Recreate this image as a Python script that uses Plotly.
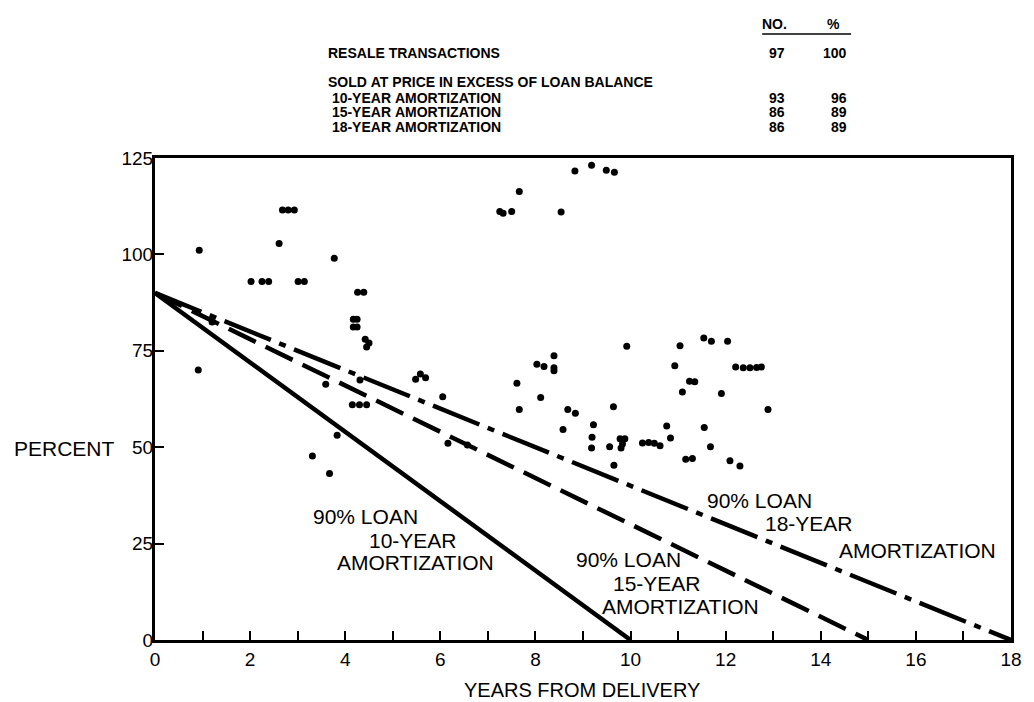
import plotly.graph_objects as go

# ---------------- data ----------------
years = [0.93, 0.91, 1.20,
         2.68, 2.80, 2.93, 2.61, 3.77, 2.02, 2.25, 2.39, 3.01, 3.14,
         4.26, 4.39, 4.17, 4.25, 4.17, 4.25, 4.42, 4.50, 4.45,
         4.31, 3.59, 4.15, 4.30, 4.45, 3.83, 3.31, 3.67,
         5.48, 5.58, 5.69, 6.05, 6.16, 6.57,
         8.83, 9.18, 9.49, 9.66, 7.66, 7.25, 7.32, 7.50, 8.54,
         8.39, 8.03, 8.18, 8.39, 8.39, 7.61, 8.11, 7.66, 8.68, 8.84, 8.58,
         9.22, 9.19, 9.18, 9.56, 9.64, 9.65,
         9.78, 9.88, 9.83, 9.80, 10.25, 10.38, 10.50, 10.62,
         9.92, 11.04, 11.54, 11.70, 12.04, 10.93,
         12.21, 12.37, 12.51, 12.65, 12.75, 11.24, 11.35, 11.09, 11.91, 12.89,
         10.76, 11.55, 10.84, 11.68, 11.16, 11.30, 12.09, 12.30]
percent = [101.1, 70.0, 82.5,
           111.5, 111.5, 111.5, 102.8, 99.0, 93.0, 93.0, 93.0, 93.0, 93.0,
           90.2, 90.2, 83.2, 83.2, 81.2, 81.2, 78.0, 77.0, 76.0,
           67.4, 66.3, 61.0, 61.0, 61.0, 53.1, 47.7, 43.2,
           67.6, 69.0, 68.0, 63.1, 51.0, 50.6,
           121.6, 123.1, 121.8, 121.3, 116.3, 111.1, 110.7, 111.1, 111.0,
           73.7, 71.5, 70.9, 70.6, 69.8, 66.6, 62.9, 59.8, 59.8, 58.8, 54.6,
           55.8, 52.6, 49.8, 50.1, 60.5, 45.3,
           52.2, 52.2, 50.8, 49.8, 51.1, 51.2, 51.0, 50.4,
           76.2, 76.3, 78.3, 77.5, 77.5, 71.1,
           70.8, 70.6, 70.6, 70.7, 70.8, 67.1, 67.0, 64.3, 63.9, 59.8,
           55.5, 55.1, 52.4, 50.1, 46.9, 47.1, 46.5, 45.1]

loan10_x = [0, 10]
loan10_y = [90, 0]
loan15_x = [0, 15]
loan15_y = [90, 0]
loan18_x = [0, 18]
loan18_y = [90, 0]

x_tickvals = list(range(0, 19))
x_ticktext = [str(v) if v % 2 == 0 else "" for v in x_tickvals]
y_tickvals = [0, 25, 50, 75, 100, 125]

table_rows = ["RESALE TRANSACTIONS",
              "SOLD AT PRICE IN EXCESS OF LOAN BALANCE",
              " 10-YEAR AMORTIZATION",
              " 15-YEAR AMORTIZATION",
              " 18-YEAR AMORTIZATION"]
table_no = ["97", "", "93", "86", "86"]
table_pct = ["100", "", "96", "89", "89"]

# ---------------- layout helpers ----------------
W, H = 1034, 702
L, R, T, B = 155, 12, 158, 62
PW, PH = W - L - R, H - T - B
FONT = "Liberation Sans, Arial, Helvetica, sans-serif"


def px(xp):
    return (xp - L) / PW


def py(yp):
    return (H - B - yp) / PH


fig = go.Figure()
fig.add_trace(go.Scatter(x=loan10_x, y=loan10_y, mode="lines",
                         line=dict(color="black", width=4.5), hoverinfo="skip"))
fig.add_trace(go.Scatter(x=loan15_x, y=loan15_y, mode="lines",
                         line=dict(color="black", width=4.5, dash="30px,11px"),
                         hoverinfo="skip"))
fig.add_trace(go.Scatter(x=loan18_x, y=loan18_y, mode="lines",
                         line=dict(color="black", width=4.5,
                                   dash="50px,9px,7px,9px"),
                         hoverinfo="skip"))
fig.add_trace(go.Scatter(x=years, y=percent, mode="markers",
                         marker=dict(color="black", size=7)))

annots = []
lab = dict(font=dict(family=FONT, size=21, color="black"), showarrow=False,
           xref="x", yref="y", xanchor="center", yanchor="middle")
for text, xx, yy in [("90% LOAN", 4.42, 31.9), ("10-YEAR", 5.42, 25.9),
                     ("AMORTIZATION", 5.48, 20.0),
                     ("90% LOAN", 9.96, 21.0), ("15-YEAR", 10.56, 14.7),
                     ("AMORTIZATION", 11.04, 8.8),
                     ("90% LOAN", 12.71, 36.3), ("18-YEAR", 13.75, 30.3),
                     ("AMORTIZATION", 16.04, 23.1)]:
    annots.append(dict(text=text, x=xx, y=yy, **lab))

# axis titles
annots.append(dict(text="PERCENT", x=px(63), y=py(448), xref="paper", yref="paper",
                   xanchor="center", yanchor="middle", showarrow=False,
                   font=dict(family=FONT, size=21, color="black")))
annots.append(dict(text="YEARS FROM DELIVERY", x=px(587), y=py(690), xref="paper",
                   yref="paper", xanchor="center", yanchor="middle", showarrow=False,
                   font=dict(family=FONT, size=20, color="black")))

# table above the chart
tf = dict(family=FONT, size=14, color="black")
row_y = [53, 82, 98, 112, 127]
anc = dict(xref="paper", yref="paper", yanchor="middle", showarrow=False, font=tf)
annots.append(dict(text="<b>NO.</b>", x=px(797), y=py(24), xanchor="right", **anc))
annots.append(dict(text="<b>%</b>", x=px(842), y=py(24), xanchor="center", **anc))
for i, txt in enumerate(table_rows):
    annots.append(dict(text="<b>" + txt.replace(" ", "&nbsp;") + "</b>", x=px(328),
                       y=py(row_y[i]), xanchor="left", **anc))
    if table_no[i]:
        annots.append(dict(text="<b>" + table_no[i] + "</b>", x=px(795),
                           y=py(row_y[i]), xanchor="right", **anc))
        annots.append(dict(text="<b>" + table_pct[i] + "</b>", x=px(858),
                           y=py(row_y[i]), xanchor="right", **anc))

shapes = [dict(type="line", xref="paper", yref="paper", x0=px(770), x1=px(860),
               y0=py(34), y1=py(34), line=dict(color="black", width=1.5))]

fig.update_layout(
    width=W, height=H,
    margin=dict(l=L, r=R, t=T, b=B, pad=0),
    paper_bgcolor="white", plot_bgcolor="white",
    showlegend=False,
    annotations=annots,
    shapes=shapes,
    font=dict(family=FONT, color="black"),
)
fig.update_xaxes(range=[0, 18], tickvals=x_tickvals, ticktext=x_ticktext,
                 ticks="inside", ticklen=9, tickwidth=2, tickcolor="black",
                 showline=True, linewidth=3, linecolor="black", mirror=True,
                 showgrid=False, zeroline=False,
                 tickfont=dict(family=FONT, size=19, color="black"))
fig.update_yaxes(range=[0, 125], tickvals=y_tickvals,
                 ticks="inside", ticklen=9, tickwidth=2, tickcolor="black",
                 showline=True, linewidth=3, linecolor="black", mirror=True,
                 showgrid=False, zeroline=False, ticklabelstandoff=-5,
                 tickfont=dict(family=FONT, size=19, color="black"))

fig.write_html("out.html",
               config={"displayModeBar": False},
               post_script="document.body.style.margin='0';"
                           "document.body.style.overflow='hidden';")
